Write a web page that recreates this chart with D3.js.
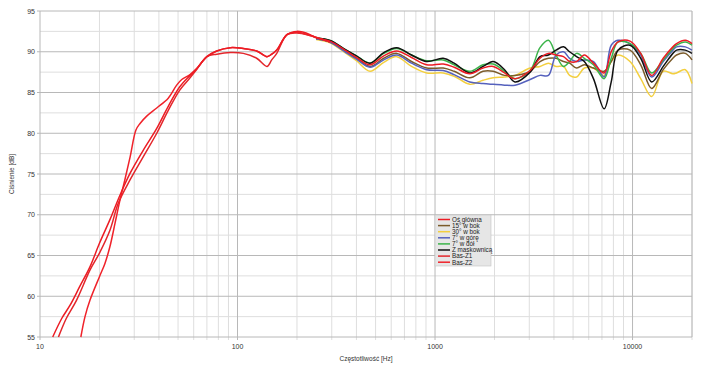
<!DOCTYPE html>
<html>
<head>
<meta charset="utf-8">
<script src="https://cdn.jsdelivr.net/npm/d3@7"></script>
<style>
  body { margin: 0; background: #fff; }
  svg { display: block; font-family: 'Liberation Sans', Arial, sans-serif; }
</style>
</head>
<body>
<svg id="chart" width="705" height="371"></svg>
<script>
// tick labels
const yTicks = [55, 60, 65, 70, 75, 80, 85, 90, 95]
const xTicks = [10, 100, 1000, 10000]

// low end (three red curves)
const osLowHz = [11.6, 12.9, 14.2, 15.9, 17.9, 20, 22.6, 25.4, 28.6, 33.3, 39, 44.6, 51, 57.5, 62, 70, 78.5, 92, 107, 125, 141, 149, 158, 178, 200, 233]
const osLowDb = [55, 57.3, 58.9, 61.2, 63.6, 66.5, 69.4, 72.4, 75.1, 77.9, 80.6, 83.3, 85.7, 87.1, 87.9, 89.4, 90.1, 90.5, 90.4, 90.1, 89.4, 89.7, 90.2, 92.1, 92.5, 92.1]

const basZ1Hz = [12.4, 13.6, 15.3, 17.9, 20, 22.6, 24.9, 28.6, 33.3, 39, 44.6, 51, 57.5, 62, 70, 78.5, 92, 107, 125, 141, 149, 158, 178, 200, 233, 294]
const basZ1Db = [55, 57.3, 59.5, 63.2, 65.3, 68.1, 71.4, 74.3, 77.1, 80.0, 82.8, 85.3, 86.8, 87.8, 89.4, 89.7, 89.9, 89.8, 89.2, 88.2, 89.0, 89.8, 92.1, 92.3, 92.0, 91.2]

const basZ2Hz = [16.1, 16.9, 17.9, 20, 21.3, 22.6, 24, 25.4, 26.9, 28.6, 30.6, 32.1, 34.7, 39, 44.6, 49.2, 52.2, 57.5, 62, 70, 78.5, 92, 107, 125, 141, 149, 158, 178, 200, 233, 294]
const basZ2Db = [55, 57.5, 59.5, 62.4, 64, 66.1, 69, 71.8, 74.3, 77.1, 80.4, 81.2, 82.1, 83.1, 84.3, 85.9, 86.6, 87.2, 87.9, 89.4, 90.1, 90.5, 90.4, 90.1, 89.4, 89.7, 90.2, 92.1, 92.4, 92.0, 91.2]

// shared frequency grid above 250 Hz
const hfHz = [250, 294, 350, 400, 469, 550, 640, 760, 908, 1100, 1250, 1500, 1750, 1970, 2250, 2540, 3030, 3400, 3750, 4100, 4470, 4800, 5210, 5700, 6340, 7180, 7800, 8450, 9710, 11000, 12500, 14300, 16000, 16700, 18500, 20000]

const osHfDb =      [91.7, 91.3, 90.2, 89.3, 88.4, 89.5, 90.1, 89.3, 88.4, 88.5, 88.1, 87.3, 88.0, 88.2, 87.4, 86.7, 87.7, 89.2, 89.8, 89.6, 89.4, 88.8, 88.8, 89.6, 88.6, 87.4, 90.0, 91.2, 91.3, 89.8, 87.1, 89.2, 90.6, 91.0, 91.4, 91.0]
const deg15Db =     [91.6, 91.2, 90.1, 89.2, 88.2, 89.2, 89.8, 88.8, 88.0, 88.0, 87.6, 86.8, 87.6, 87.6, 87.1, 87.1, 87.6, 88.8, 89.2, 89.2, 88.8, 88.6, 88.0, 88.4, 88.0, 87.6, 88.8, 90.2, 90.2, 88.4, 85.5, 87.8, 89.2, 89.6, 89.8, 89.0]
const deg30Db =     [91.5, 91.1, 89.9, 88.9, 87.6, 88.7, 89.4, 88.2, 87.4, 87.4, 87.0, 86.0, 86.5, 86.8, 86.9, 87.1, 88.0, 88.2, 88.6, 88.2, 88.2, 87.1, 86.9, 88.0, 88.0, 87.1, 88.8, 89.6, 88.8, 86.7, 84.5, 87.6, 87.3, 87.4, 87.8, 86.1]
const upDb =        [91.6, 91.2, 90.0, 89.1, 88.1, 89.0, 89.6, 88.6, 87.8, 87.7, 87.2, 86.3, 86.1, 86.0, 85.9, 85.9, 86.6, 87.1, 87.1, 89.6, 90.0, 89.2, 88.8, 89.0, 88.8, 86.9, 90.8, 91.4, 91.0, 89.6, 86.9, 88.8, 90.2, 90.6, 90.6, 90.2]
const downDb =      [91.7, 91.4, 90.3, 89.5, 88.6, 89.8, 90.4, 89.6, 88.9, 89.0, 88.4, 87.6, 88.4, 88.5, 87.6, 86.7, 87.7, 90.5, 91.4, 89.6, 88.2, 88.8, 89.8, 89.2, 88.4, 86.7, 89.2, 91.2, 91.0, 89.8, 87.4, 89.0, 90.4, 90.8, 91.2, 90.8]
const maskDb =      [91.7, 91.4, 90.3, 89.5, 88.6, 89.9, 90.5, 89.6, 88.8, 89.2, 88.6, 87.4, 88.2, 88.8, 87.8, 86.3, 87.5, 89.4, 89.6, 90.2, 90.6, 90.0, 89.4, 88.8, 86.7, 83.0, 86.3, 90.2, 90.8, 89.2, 86.3, 88.2, 89.8, 90.2, 90.2, 89.8]

const margin = { top: 11, right: 13, bottom: 34, left: 40 }
const width = 705
const height = 371

const colors = {
	os: '#ec1c24',
	deg15: '#7b5b2a',
	deg30: '#f3cf3f',
	up: '#5561bd',
	down: '#3bb44a',
	mask: '#111111',
	z1: '#e3262b',
	z2: '#f0222a'
}

const svg = d3.select('#chart')

const x = d3.scaleLog().domain([10, 20000]).range([margin.left, width - margin.right])
const y = d3.scaleLinear().domain([55, 95]).range([height - margin.bottom, margin.top])

// grid
const minorX = []
for (let dec = 10; dec < 20000; dec *= 10) {
	for (let k = 2; k <= 9; k++) {
		if (dec * k <= 20000) minorX.push(dec * k)
	}
}
const minorY = d3.range(57.5, 95, 5)

const grid = svg.append('g')
grid.selectAll('.vminor').data(minorX).enter().append('line')
	.attr('x1', d => x(d)).attr('x2', d => x(d))
	.attr('y1', y(95)).attr('y2', y(55) + 3)
	.style('stroke', '#dedede').style('stroke-width', 1)
grid.selectAll('.hminor').data(minorY).enter().append('line')
	.attr('x1', x(10)).attr('x2', x(20000))
	.attr('y1', d => y(d)).attr('y2', d => y(d))
	.style('stroke', '#dedede').style('stroke-width', 1)
grid.selectAll('.vmajor').data(xTicks).enter().append('line')
	.attr('x1', d => x(d)).attr('x2', d => x(d))
	.attr('y1', y(95)).attr('y2', y(55) + 3)
	.style('stroke', '#b8b8b8').style('stroke-width', 1)
grid.selectAll('.hmajor').data(yTicks).enter().append('line')
	.attr('x1', x(10) - 3).attr('x2', x(20000))
	.attr('y1', d => y(d)).attr('y2', d => y(d))
	.style('stroke', '#b8b8b8').style('stroke-width', 1)
grid.append('line')
	.attr('x1', x(20000)).attr('x2', x(20000)).attr('y1', y(95)).attr('y2', y(55))
	.style('stroke', '#b8b8b8')

// tick labels
svg.append('g').selectAll('text').data(yTicks).enter().append('text')
	.attr('x', margin.left - 5).attr('y', d => y(d) + 2.5)
	.style('text-anchor', 'end').style('font-size', '7px').style('fill', '#333')
	.text(d => d)
svg.append('g').selectAll('text').data(xTicks).enter().append('text')
	.attr('x', d => x(d)).attr('y', y(55) + 12)
	.style('text-anchor', 'middle').style('font-size', '7px').style('fill', '#333')
	.text(d => d)

svg.append('text')
	.attr('transform', `translate(14, ${(y(95) + y(55)) / 2}) rotate(-90)`)
	.style('text-anchor', 'middle').style('font-size', '6.5px').style('fill', '#333')
	.text('Ciśnienie [dB]')
svg.append('text')
	.attr('x', (x(10) + x(20000)) / 2).attr('y', 361)
	.style('text-anchor', 'middle').style('font-size', '6.5px').style('fill', '#333')
	.text('Częstotliwość [Hz]')

// curves
const line = d3.line()
	.x(d => x(d[0])).y(d => y(d[1]))
	.curve(d3.curveCatmullRom.alpha(0.5))

const zip = (hz, db) => hz.map((f, i) => [f, db[i]])

const series = [
	{ name: '30° w bok', color: colors.deg30, pts: zip(hfHz, deg30Db) },
	{ name: '15° w bok', color: colors.deg15, pts: zip(hfHz, deg15Db) },
	{ name: '7° w górę', color: colors.up, pts: zip(hfHz, upDb) },
	{ name: '7° w dół', color: colors.down, pts: zip(hfHz, downDb) },
	{ name: 'Z maskownicą', color: colors.mask, pts: zip(hfHz, maskDb) },
	{ name: 'Bas-Z1', color: colors.z1, pts: zip(basZ1Hz, basZ1Db) },
	{ name: 'Bas-Z2', color: colors.z2, pts: zip(basZ2Hz, basZ2Db) },
	{ name: 'Oś główna', color: colors.os, pts: zip(osLowHz.concat(hfHz), osLowDb.concat(osHfDb)) }
]

const plot = svg.append('g')
plot.selectAll('path').data(series).enter().append('path')
	.attr('d', d => line(d.pts))
	.style('fill', 'none')
	.style('stroke', d => d.color)
	.style('stroke-width', 1.5)

// legend
const legendItems = [
	['Oś główna', colors.os],
	['15° w bok', colors.deg15],
	['30° w bok', colors.deg30],
	['7° w górę', colors.up],
	['7° w dół', colors.down],
	['Z maskownicą', colors.mask],
	['Bas-Z1', colors.z1],
	['Bas-Z2', colors.z2]
]
const legend = svg.append('g').attr('transform', 'translate(435, 215)')
legend.append('rect')
	.attr('width', 56).attr('height', 51)
	.style('fill', '#e6e6e6').style('stroke', '#c4c4c4').style('stroke-width', 0.6)
const item = legend.selectAll('g.item').data(legendItems).enter().append('g')
	.attr('transform', (d, i) => `translate(3, ${4.5 + i * 6.1})`)
item.append('line')
	.attr('x1', 0).attr('x2', 12).attr('y1', 0).attr('y2', 0)
	.style('stroke', d => d[1]).style('stroke-width', 1.5)
item.append('text')
	.attr('x', 14).attr('y', 2.3)
	.style('font-size', '6.3px').style('fill', '#222')
	.text(d => d[0])
</script>
</body>
</html>
